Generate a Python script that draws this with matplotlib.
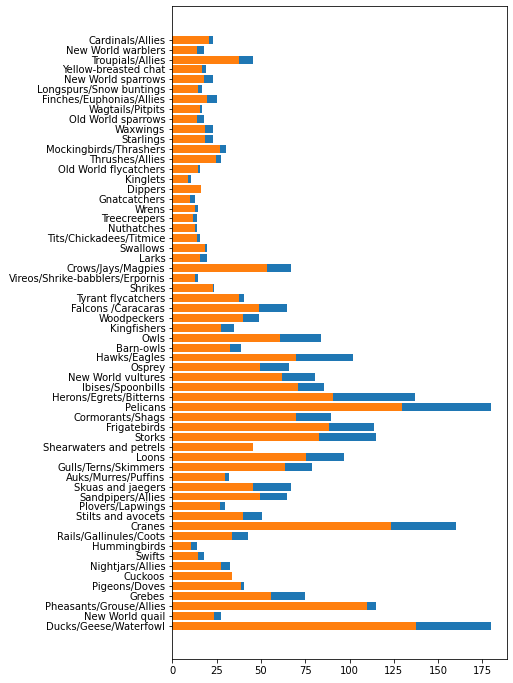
import matplotlib
matplotlib.use("Agg")
import matplotlib.pyplot as plt

# families, bottom to top
families = ["Ducks/Geese/Waterfowl", "New World quail", "Pheasants/Grouse/Allies", "Grebes",
            "Pigeons/Doves", "Cuckoos", "Nightjars/Allies", "Swifts", "Hummingbirds",
            "Rails/Gallinules/Coots", "Cranes", "Stilts and avocets", "Plovers/Lapwings",
            "Sandpipers/Allies", "Skuas and jaegers", "Auks/Murres/Puffins", "Gulls/Terns/Skimmers",
            "Loons", "Shearwaters and petrels", "Storks", "Frigatebirds", "Cormorants/Shags",
            "Pelicans", "Herons/Egrets/Bitterns", "Ibises/Spoonbills", "New World vultures",
            "Osprey", "Hawks/Eagles", "Barn-owls", "Owls", "Kingfishers", "Woodpeckers",
            "Falcons /Caracaras", "Tyrant flycatchers", "Shrikes", "Vireos/Shrike-babblers/Erpornis",
            "Crows/Jays/Magpies", "Larks", "Swallows", "Tits/Chickadees/Titmice", "Nuthatches",
            "Treecreepers", "Wrens", "Gnatcatchers", "Dippers", "Kinglets", "Old World flycatchers",
            "Thrushes/Allies", "Mockingbirds/Thrashers", "Starlings", "Waxwings", "Old World sparrows",
            "Wagtails/Pitpits", "Finches/Euphonias/Allies", "Longspurs/Snow buntings",
            "New World sparrows", "Yellow-breasted chat", "Troupials/Allies", "New World warblers",
            "Cardinals/Allies"]

max_len = [180, 27.5, 115, 75, 40.5, 33.7, 32.5, 17.9, 14, 42.7, 159.8, 50.6, 29.8,
           64.8, 67, 32, 79, 97, 45.6, 115.1, 114, 89.6, 180, 137.2, 85.7, 80.6,
           65.9, 102.1, 38.8, 84, 34.8, 49, 64.8, 40.5, 23.3, 14.5, 67, 19.6, 19.6, 15.6,
           14, 14, 14.5, 12.8, 16.2, 10.6, 15.6, 27.5, 30.3, 23, 23, 17.7, 16.7, 25.3,
           16.7, 23, 18.8, 45.6, 17.7, 23]

min_len = [137.7, 23.5, 110, 55.8, 38.8, 33.7, 27.5, 14.5, 10.6, 33.7, 123.5, 39.9, 26.9,
           49.5, 45.6, 29.8, 63.7, 75.6, 45.6, 82.9, 88.5, 69.9, 129.8, 90.8, 71, 62,
           49.5, 69.9, 32.5, 60.9, 27.5, 39.9, 49, 37.7, 22.8, 12.8, 53.5, 15.6, 18.5, 14,
           12.8, 11.7, 12.8, 10, 16.2, 8.8, 14.7, 24.6, 26.9, 18.3, 18.3, 14, 15.6, 19.6,
           14.5, 17.9, 16.7, 37.7, 14, 20.7]

fig = plt.figure(figsize=(513/72, 683/72), dpi=72)
ax = fig.add_axes([0.3359, 0.0347, 0.653, 0.9565])

ax.barh(families, max_len)
ax.barh(families, min_len)

ax.tick_params(labelsize=10)

fig.savefig("out.png", dpi=72)
